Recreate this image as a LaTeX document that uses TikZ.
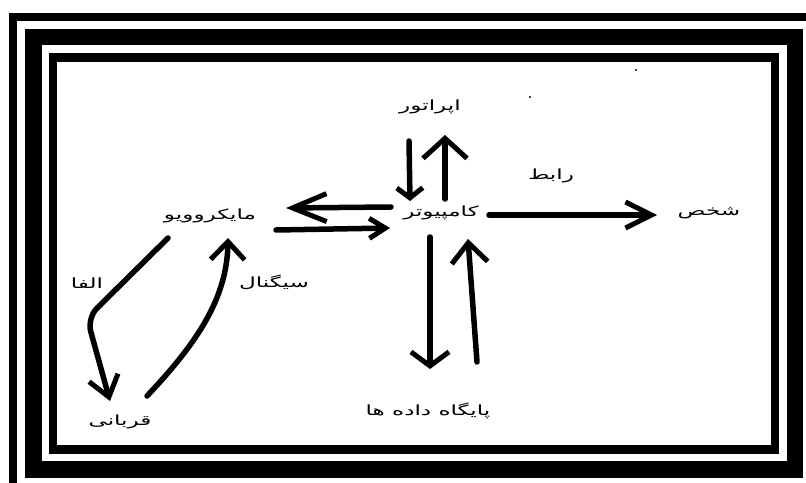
\documentclass[tikz,border=0pt]{standalone}
\usepackage{fontspec}
\usepackage{graphicx}
\usetikzlibrary{arrows.meta}
\newfontfamily\fa[Script=Arabic]{DejaVu Sans}
\TeXXeTstate=1
\newcommand{\fatxt}[1]{\scalebox{1.65}[1]{\beginR #1\endR}}
\begin{document}
\begin{tikzpicture}[x=1pt,y=-1pt,
  lbl/.style={inner sep=0pt,font=\fa\fontsize{14}{16}\selectfont},
  arr/.style={line width=5.5pt,line cap=round,line join=round,
    -{Straight Barb[length=18pt,width=34pt,line width=5pt]}}]
\useasboundingbox (0,0) rectangle (806,482);
\fill[white] (0,0) rectangle (806,482);
% frames
\begin{scope}
\clip (0,0) rectangle (806,482);
\draw[line width=8pt] (820,17) -- (13,17) -- (13,500);
\end{scope}
\draw[line width=16.5pt] (33.5,37) rectangle (795,469.5);
\draw[line width=8.5pt] (53,57.5) rectangle (775,449.5);
% stray dots
\fill (636,70) circle (1.1pt);
\fill (530,97) circle (1.1pt);
% labels
\node[lbl] (op) at (430,107) {\fatxt{اپراتور}};
\node[lbl] (comp) at (441,213) {\fatxt{کامپیوتر}};
\node[lbl] (mw) at (210,216) {\fatxt{مایکروویو}};
\node[lbl] (link) at (551,176) {\fatxt{رابط}};
\node[lbl] (pers) at (709,213) {\fatxt{شخص}};
\node[lbl] (db) at (428,411) {\fatxt{پایگاه داده ها}};
\node[lbl] (alpha) at (87,283) {\fatxt{الفا}};
\node[lbl] (sig) at (274,282) {\fatxt{سیگنال}};
\node[lbl] (vic) at (120,422) {\fatxt{قربانی}};
% arrow end points
\coordinate (opdS) at (409,141);
\coordinate (opdE) at (410,201);
\coordinate (opuS) at (445,199);
\coordinate (opuE) at (445,135);
\coordinate (mlS) at (391,207);
\coordinate (mlE) at (286,208);
\coordinate (mrS) at (276,230);
\coordinate (mrE) at (390,228);
\coordinate (lkS) at (489,215);
\coordinate (lkE) at (657,215);
\coordinate (dbdS) at (430,237);
\coordinate (dbdE) at (430,369);
\coordinate (dbuS) at (477,362);
\coordinate (dbuE) at (468,239);
\coordinate (alS) at (168,238);
\coordinate (alC) at (87,318);
\coordinate (alE) at (110,401);
\coordinate (sgS) at (147,396);
\coordinate (sgE) at (228,238);
% arrows
\draw[arr,-{Straight Barb[length=10pt,width=26pt,line width=5pt]}] (opdS) -- (opdE);
\draw[arr,-{Straight Barb[length=20pt,width=44pt,line width=5pt]}] (opuS) -- (opuE);
\draw[arr,-{Straight Barb[length=34pt,width=28pt,line width=5pt]}] (mlS) -- (mlE);
\draw[arr,-{Straight Barb[length=16pt,width=20pt,line width=5pt]}] (mrS) -- (mrE);
\draw[arr,-{Straight Barb[length=26pt,width=26pt,line width=5pt]}] (lkS) -- (lkE);
\draw[arr,-{Straight Barb[length=14pt,width=38pt,line width=5pt]}] (dbdS) -- (dbdE);
\draw[arr,-{Straight Barb[length=20pt,width=36pt,line width=5pt]}] (dbuS) -- (dbuE);
\draw[arr,rounded corners=14pt,-{Straight Barb[length=20pt,width=30pt,line width=5pt]}] (alS) -- (alC) -- (alE);
\draw[arr,-{Straight Barb[length=18pt,width=34pt,line width=5pt]}] (sgS) .. controls (195,345) and (227,300) .. (sgE);
\end{tikzpicture}
\end{document}
